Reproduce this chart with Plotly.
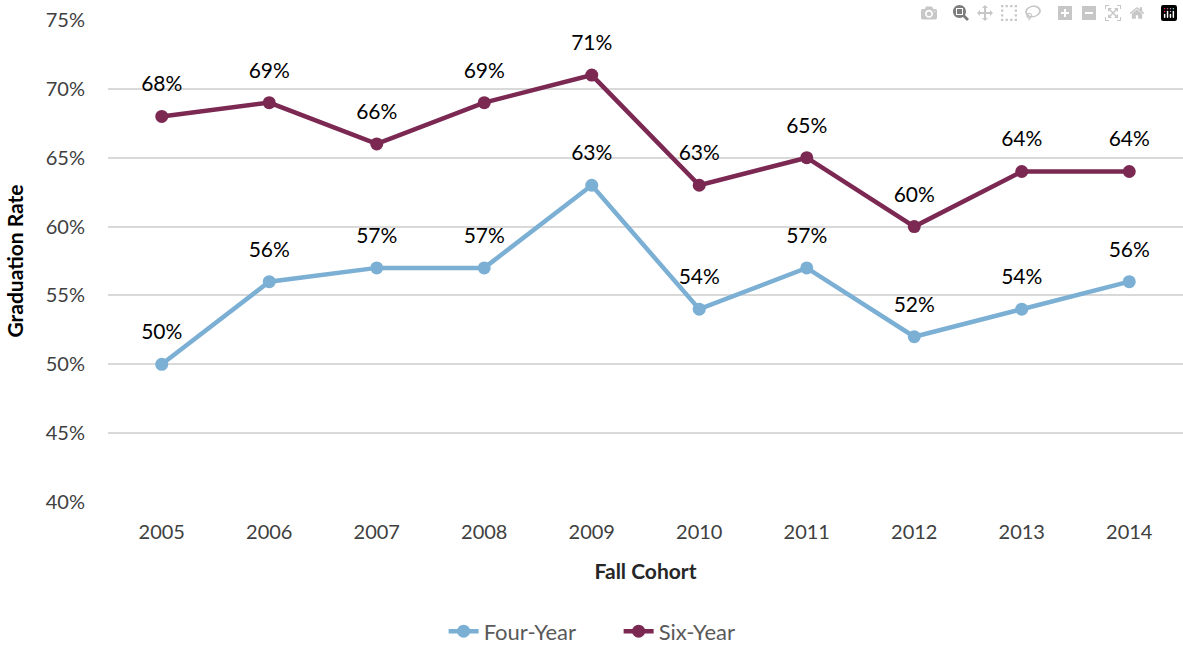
import plotly.graph_objects as go

years = ["2005", "2006", "2007", "2008", "2009", "2010", "2011", "2012", "2013", "2014"]
four_year = [0.50, 0.56, 0.57, 0.57, 0.63, 0.54, 0.57, 0.52, 0.54, 0.56]
six_year = [0.68, 0.69, 0.66, 0.69, 0.71, 0.63, 0.65, 0.60, 0.64, 0.64]
y_ticks = [0.40, 0.45, 0.50, 0.55, 0.60, 0.65, 0.70, 0.75]

FONT = "Lato, 'Open Sans', sans-serif"
BLUE = "#7BAFD4"
MAROON = "#7B2852"

fig = go.Figure()
for name, vals, col in (("Four-Year", four_year, BLUE), ("Six-Year", six_year, MAROON)):
    fig.add_trace(go.Scatter(x=years, y=vals, name=name, mode="lines+markers",
                             line=dict(color=col, width=4.5),
                             marker=dict(color=col, size=13)))
for vals in (four_year, six_year):
    fig.add_trace(go.Scatter(x=years, y=vals, mode="markers+text",
                             text=[f"{round(v*100)}%" for v in vals],
                             textposition="top center",
                             textfont=dict(family=FONT, size=21, color="#000000"),
                             marker=dict(size=30, opacity=0),
                             showlegend=False, hoverinfo="skip"))

fig.update_layout(
    width=1183, height=653,
    margin=dict(l=108, r=0, t=20, b=151),
    paper_bgcolor="white", plot_bgcolor="white",
    font=dict(family=FONT, size=20, color="#404040"),
    showlegend=True,
    legend=dict(orientation="h", x=0.475, xanchor="center", y=-0.312, yanchor="bottom",
                font=dict(family=FONT, size=22, color="#595959"), entrywidth=130),
    xaxis=dict(type="category", showgrid=False, showline=False, zeroline=False,
               ticks="outside", tickcolor="white", ticklen=12, automargin=False,
               tickfont=dict(size=20, color="#404040"), range=[-0.5, 9.5],
               title=dict(text="<b>Fall Cohort</b>", font=dict(size=21, color="#262626"), standoff=22)),
    yaxis=dict(range=[0.40, 0.75], tickvals=y_ticks, tickformat=".0%",
               showgrid=True, gridcolor="#D9D9D9", gridwidth=2, zeroline=False, showline=False,
               ticks="outside", tickcolor="white", ticklen=18, automargin=False,
               tickfont=dict(size=20, color="#404040"),
               title=dict(text="<b>Graduation Rate</b>", font=dict(size=21, color="#000000"), standoff=16)),
)

# remove the browser's default 8px body margin so the figure sits at the window's top-left corner
fig.write_html("out.html", post_script="document.body.style.margin='0';")
